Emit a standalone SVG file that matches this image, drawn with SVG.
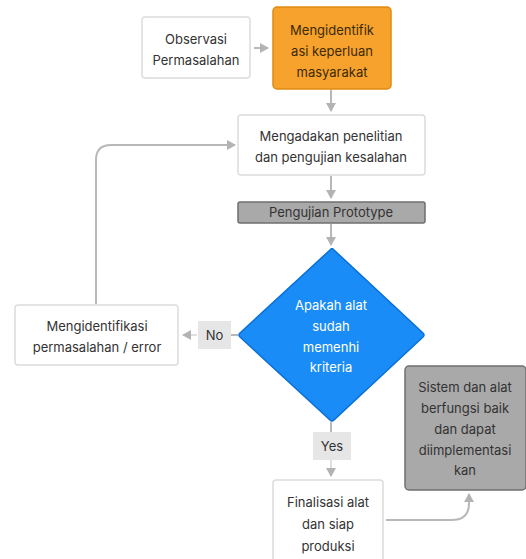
<svg xmlns="http://www.w3.org/2000/svg" width="526" height="559" viewBox="0 0 526 559">
<style>
text{font-family:Inter,"Noto Sans","Liberation Sans",sans-serif;font-size:13px;text-anchor:middle;fill:#333}
.w{fill:#fff;stroke:#dcdcdc;stroke-width:1.5}
.g{fill:#a9a9a9;stroke:#6f6f6f;stroke-width:1.5}
.c{fill:none;stroke:#b8b8b8;stroke-width:2}
.lbl{fill:#e6e6e6}
</style>
<defs>
<marker id="ah" markerWidth="10" markerHeight="10" refX="8" refY="5" orient="auto" markerUnits="userSpaceOnUse">
<path d="M0,0 L9,5 L0,10 Z" fill="#b3b3b3"/>
</marker>
</defs>
<g id="connectors">
<path class="c" d="M254,48 L268,48" marker-end="url(#ah)"/>
<path class="c" d="M331,90 L331,111" marker-end="url(#ah)"/>
<path class="c" d="M331,176 L331,198" marker-end="url(#ah)"/>
<path class="c" d="M331,224 L331,245" marker-end="url(#ah)"/>
<path class="c" d="M238,335 L231,335" />
<path class="c" d="M197,335 L183,335" marker-end="url(#ah)" style="stroke:#e0e0e0"/>
<path class="c" d="M96,304 L96,160 Q96,145 111,145 L235,145" marker-end="url(#ah)"/>
<path class="c" d="M331,422 L331,432"/>
<path class="c" d="M331,460 L331,476" marker-end="url(#ah)" style="stroke:#e0e0e0"/>
<path class="c" d="M386,520 L452,520 Q469,520 469,503 L469,494" marker-end="url(#ah)"/>
<rect class="lbl" x="198" y="321" width="33" height="28"/>
<text x="214.5" y="340">No</text>
<rect class="lbl" x="313" y="432" width="38" height="28"/>
<text x="332" y="451">Yes</text>
</g>
<g id="observasi">
<rect class="w" x="142" y="17" width="108" height="61" rx="3"/>
<text x="196" y="44">Observasi</text>
<text x="196" y="65">Permasalahan</text>
</g>
<g id="identifikasi-keperluan">
<rect x="273" y="7" width="118" height="82" rx="4" fill="#f7a22c" stroke="#e08a12" stroke-width="1.5"/>
<text x="332" y="35" style="fill:#3b2a05">Mengidentifik</text>
<text x="332" y="56" style="fill:#3b2a05">asi keperluan</text>
<text x="332" y="77" style="fill:#3b2a05">masyarakat</text>
</g>
<g id="penelitian">
<rect class="w" x="238" y="115" width="187" height="60" rx="3"/>
<text x="331" y="141">Mengadakan penelitian</text>
<text x="331" y="162">dan pengujian kesalahan</text>
</g>
<g id="prototype">
<rect class="g" x="238" y="202" width="187" height="21" rx="2"/>
<text x="331" y="217">Pengujian Prototype</text>
</g>
<g id="keputusan">
<path d="M332,249 Q332,248 334,250 L423,333 Q425,335 423,337 L334,420 Q332,422 330,420 L240,337 Q238,335 240,333 L330,250 Q332,248 332,249 Z" fill="#1a8cf7" stroke="#0a6fd6" stroke-width="1.5"/>
<text x="331" y="310" style="fill:#fff">Apakah alat</text>
<text x="331" y="331" style="fill:#fff">sudah</text>
<text x="331" y="352" style="fill:#fff">memenhi</text>
<text x="331" y="372" style="fill:#fff">kriteria</text>
</g>
<g id="identifikasi-error">
<rect class="w" x="15" y="305" width="163" height="60" rx="3"/>
<text x="97" y="331">Mengidentifikasi</text>
<text x="97" y="352">permasalahan / error</text>
</g>
<g id="sistem-berfungsi">
<rect class="g" x="405" y="366" width="121" height="124" rx="4"/>
<text x="465" y="392">Sistem dan alat</text>
<text x="465" y="413">berfungsi baik</text>
<text x="465" y="434">dan dapat</text>
<text x="465" y="455">diimplementasi</text>
<text x="465" y="475">kan</text>
</g>
<g id="finalisasi">
<rect class="w" x="273" y="480" width="110" height="90" rx="3"/>
<text x="328" y="507">Finalisasi alat</text>
<text x="328" y="529">dan siap</text>
<text x="328" y="551">produksi</text>
</g>
</svg>
